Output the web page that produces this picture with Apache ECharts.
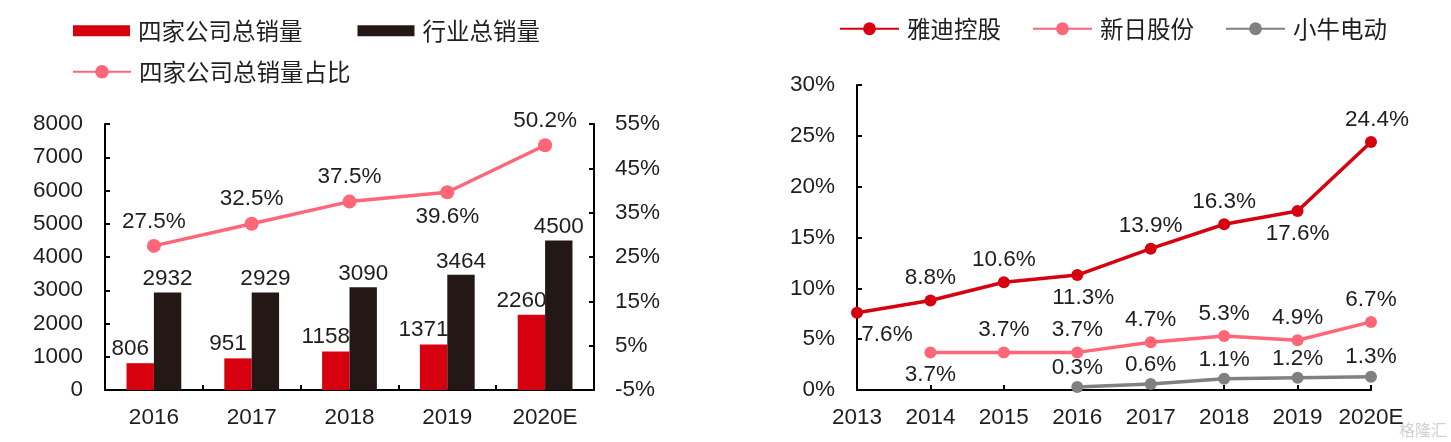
<!DOCTYPE html>
<html>
<head>
<meta charset="utf-8">
<script src="https://cdn.jsdelivr.net/npm/echarts@6/dist/echarts.min.js"></script>
<style>
html,body{margin:0;padding:0;background:#fff;}
#c{width:1451px;height:442px;}
</style>
</head>
<body>
<div id="c"></div>
<script>
// ---- data ----
const cats1 = ['2016', '2017', '2018', '2019', '2020E'];
const fourSales = [806, 951, 1158, 1371, 2260];
const industrySales = [2932, 2929, 3090, 3464, 4500];
const fourShare = [27.5, 32.5, 37.5, 39.6, 50.2];

const cats2 = ['2013', '2014', '2015', '2016', '2017', '2018', '2019', '2020E'];
const yadea = [7.6, 8.8, 10.6, 11.3, 13.9, 16.3, 17.6, 24.4];
const sunra = [null, 3.7, 3.7, 3.7, 4.7, 5.3, 4.9, 6.7];
const niu = [null, null, null, 0.3, 0.6, 1.1, 1.2, 1.3];

// label placement (styling)
const sharePos = ['top', 'top', 'top', 'bottom', 'top'];
const yadeaPos = ['bottom', 'top', 'top', 'bottom', 'top', 'top', 'bottom', 'top'];
const sunraPos = [null, 'bottom', 'top', 'top', 'top', 'top', 'top', 'top'];

const NUM_FONT = 'Liberation Sans, Arial, sans-serif';
const CJK_FONT = 'Noto Sans CJK SC, sans-serif';
const TXT = '#1e1e1e';
const FS = 22.5;
const LFS = 23.5;

function withPos(vals, pos, extra) {
  return vals.map((v, i) => {
    if (v === null) return '-';
    const o = { value: v, label: { position: pos[i] } };
    if (extra && extra[i]) Object.assign(o.label, extra[i]);
    return o;
  });
}

const axisLine = { show: true, lineStyle: { color: '#000', width: 2 } };
const axisTick = { show: true, inside: true, length: 5, lineStyle: { color: '#000', width: 2 } };
const axisLabel = { color: TXT, fontSize: FS, fontFamily: NUM_FONT };

const chart = echarts.init(document.getElementById('c'), null, { renderer: 'canvas' });

const yadeaExtra = [];
yadeaExtra[0] = { offset: [30, 0] };
yadeaExtra[3] = { offset: [6, 0] };
yadeaExtra[7] = { offset: [6, 0] };

const legendText = { fontSize: LFS, fontFamily: CJK_FONT, color: TXT, padding: [0, 0, 0, 3] };

chart.setOption({
  animation: false,
  backgroundColor: '#fff',
  textStyle: { fontFamily: NUM_FONT },
  legend: [
    {
      left: 73, top: 19, padding: 0, itemWidth: 57, itemHeight: 11, itemGap: 55,
      icon: 'rect',
      data: ['四家公司总销量', '行业总销量'],
      textStyle: legendText
    },
    {
      left: 72, top: 60, padding: 0, itemWidth: 58, itemHeight: 17,
      data: ['四家公司总销量占比'],
      textStyle: legendText
    },
    {
      left: 839, top: 17, padding: 0, itemWidth: 59, itemHeight: 16, itemGap: 31,
      data: ['雅迪控股', '新日股份', '小牛电动'],
      textStyle: legendText
    }
  ],
  grid: [
    { left: 105, top: 124, width: 489, height: 266, containLabel: false },
    { left: 857, top: 85, width: 514, height: 305, containLabel: false }
  ],
  xAxis: [
    {
      type: 'category', gridIndex: 0, data: cats1,
      axisLine, axisTick: Object.assign({}, axisTick, { alignWithLabel: false }),
      axisLabel: Object.assign({}, axisLabel, { margin: 16, interval: 0 }),
      splitLine: { show: false }
    },
    {
      type: 'category', gridIndex: 1, data: cats2, boundaryGap: false,
      axisLine, axisTick: Object.assign({}, axisTick, { interval: 0 }),
      axisLabel: Object.assign({}, axisLabel, { margin: 16, interval: 0 }),
      splitLine: { show: false }
    }
  ],
  yAxis: [
    {
      type: 'value', gridIndex: 0, min: 0, max: 8000, interval: 1000,
      axisLine, axisTick,
      axisLabel: Object.assign({}, axisLabel, { margin: 22, formatter: v => String(v) }),
      splitLine: { show: false }
    },
    {
      type: 'value', gridIndex: 0, position: 'right', min: -5, max: 55, interval: 10,
      axisLine, axisTick,
      axisLabel: Object.assign({}, axisLabel, { margin: 21, formatter: '{value}%' }),
      splitLine: { show: false }
    },
    {
      type: 'value', gridIndex: 1, min: 0, max: 30, interval: 5,
      axisLine, axisTick,
      axisLabel: Object.assign({}, axisLabel, { margin: 22, formatter: '{value}%' }),
      splitLine: { show: false }
    }
  ],
  series: [
    {
      name: '四家公司总销量', type: 'bar', xAxisIndex: 0, yAxisIndex: 0,
      data: fourSales, barGap: '0%', barCategoryGap: '44%',
      itemStyle: { color: '#D7000F' },
      label: { show: true, position: 'top', distance: 3, offset: [-10, 0], color: TXT, fontSize: FS, fontFamily: NUM_FONT }
    },
    {
      name: '行业总销量', type: 'bar', xAxisIndex: 0, yAxisIndex: 0,
      data: industrySales, barGap: '0%', barCategoryGap: '44%',
      itemStyle: { color: '#231815' },
      label: { show: true, position: 'top', distance: 2, color: TXT, fontSize: FS, fontFamily: NUM_FONT }
    },
    {
      name: '四家公司总销量占比', type: 'line', xAxisIndex: 0, yAxisIndex: 1,
      data: withPos(fourShare, sharePos),
      symbol: 'circle', symbolSize: 14,
      lineStyle: { color: '#FF6677', width: 3.5 },
      itemStyle: { color: '#FF6677' },
      label: { show: true, formatter: '{c}%', color: TXT, fontSize: FS, fontFamily: NUM_FONT, distance: 6 }
    },
    {
      name: '雅迪控股', type: 'line', xAxisIndex: 1, yAxisIndex: 2,
      data: withPos(yadea, yadeaPos, yadeaExtra),
      symbol: 'circle', symbolSize: 12,
      lineStyle: { color: '#D7000F', width: 3.5 },
      itemStyle: { color: '#D7000F' },
      label: { show: true, formatter: '{c}%', color: TXT, fontSize: FS, fontFamily: NUM_FONT, distance: 5 }
    },
    {
      name: '新日股份', type: 'line', xAxisIndex: 1, yAxisIndex: 2,
      data: withPos(sunra, sunraPos),
      symbol: 'circle', symbolSize: 12,
      lineStyle: { color: '#FF6677', width: 3.5 },
      itemStyle: { color: '#FF6677' },
      label: { show: true, formatter: '{c}%', color: TXT, fontSize: FS, fontFamily: NUM_FONT, distance: 5 }
    },
    {
      name: '小牛电动', type: 'line', xAxisIndex: 1, yAxisIndex: 2,
      data: niu,
      symbol: 'circle', symbolSize: 12,
      lineStyle: { color: '#808080', width: 3.5 },
      itemStyle: { color: '#808080' },
      label: { show: true, position: 'top', formatter: '{c}%', color: TXT, fontSize: FS, fontFamily: NUM_FONT, distance: 2 }
    }
  ],
  graphic: [
    {
      type: 'text', right: 4, bottom: 4,
      style: { text: '格隆汇', fill: 'rgba(150,150,150,0.45)', fontSize: 16, fontFamily: CJK_FONT }
    }
  ]
});
</script>
</body>
</html>
